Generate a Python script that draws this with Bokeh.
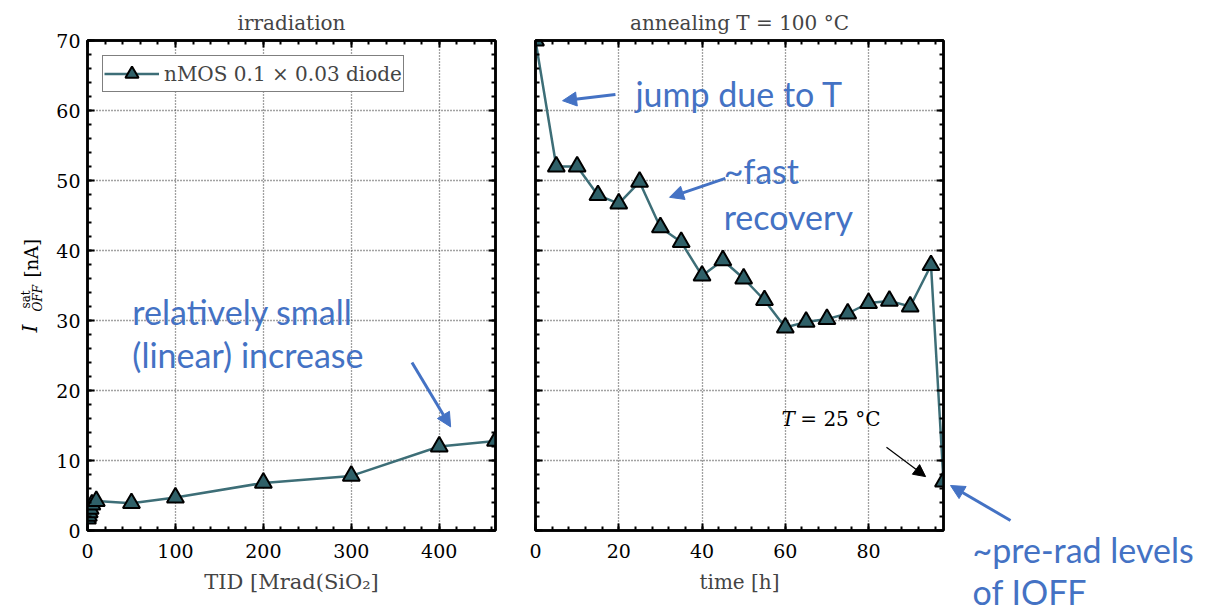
import math
from bokeh.plotting import figure
from bokeh.layouts import row
from bokeh.models import Range1d, FixedTicker, LinearAxis, Label, Arrow, NormalHead
from bokeh.core.properties import value
from bokeh.embed import file_html
from bokeh.resources import INLINE

# ---- data ----
tid = [0, 1, 2, 3, 5, 10, 50, 100, 200, 300, 400, 464]
ioff_irr = [1.7, 2.1, 2.6, 3.1, 3.7, 4.2, 3.9, 4.7, 6.8, 7.8, 12.0, 12.8]

time_h = [0, 5, 10, 15, 20, 25, 30, 35, 40, 45, 50, 55, 60, 65, 70, 75, 80, 85, 90, 95, 98]
ioff_ann = [70.0, 52.0, 52.0, 47.9, 46.7, 49.8, 43.3, 41.2, 36.4, 38.6, 36.0, 32.9,
            29.0, 29.8, 30.2, 31.0, 32.5, 32.8, 32.0, 37.9, 7.0]

irr_xticks = [0, 100, 200, 300, 400]
ann_xticks = [0, 20, 40, 60, 80]
yticks = [0, 10, 20, 30, 40, 50, 60, 70]

legend_text = "nMOS 0.1 \u00d7 0.03 diode"

LINE = "#3d6e77"
FILL = "#2f6068"
BLUE = "#4472c4"
SERIF = "DejaVu Serif"
SANS = "Lato"
H = 612


def hide_labels(ax):
    ax.major_label_text_font_size = "1px"
    ax.major_label_text_color = None
    ax.major_label_standoff = 0


def make_fig(width, mb_left, mb_right, xmax, xmaj, xminor_step, title):
    p = figure(width=width, height=H, x_range=Range1d(0, xmax), y_range=Range1d(0, 70),
               output_backend="svg", toolbar_location=None,
               min_border_left=mb_left, min_border_right=mb_right,
               min_border_top=40, min_border_bottom=H - 530)
    p.outline_line_color = "black"
    p.outline_line_width = 2.5
    xt = FixedTicker(ticks=xmaj, minor_ticks=list(range(0, int(xmax) + 1, xminor_step)))
    yt = FixedTicker(ticks=yticks, minor_ticks=list(range(0, 71, 2)))
    bottom = p.below[0]
    left = p.left[0]
    bottom.ticker = xt
    left.ticker = yt
    top = LinearAxis(ticker=xt)
    right = LinearAxis(ticker=yt)
    p.add_layout(top, "above")
    p.add_layout(right, "right")
    for ax in (bottom, left, top, right):
        ax.axis_line_color = "black"
        ax.axis_line_width = 2.5
        ax.major_tick_in = 7
        ax.major_tick_out = 0
        ax.minor_tick_in = 4
        ax.minor_tick_out = 0
        ax.major_tick_line_width = 2
        ax.minor_tick_line_width = 2
        ax.major_tick_line_color = "black"
        ax.minor_tick_line_color = "black"
        ax.major_label_text_font = SERIF
        ax.major_label_text_font_size = "19px"
        ax.major_label_text_color = "black"
    hide_labels(top)
    hide_labels(right)
    bottom.major_label_standoff = 13
    left.major_label_standoff = 7
    for g in p.grid:
        g.grid_line_color = "#444444"
        g.grid_line_dash = "1 2"
        g.grid_line_width = 1.3
    p.title.text = title
    p.title.align = "center"
    p.title.text_font = SERIF
    p.title.text_font_size = "20px"
    p.title.text_font_style = "normal"
    p.title.standoff = 11
    p.background_fill_color = "white"
    p.border_fill_color = "white"
    return p, bottom, left


def blank_fig(width):
    p = figure(width=width, height=H, x_range=Range1d(0, width), y_range=Range1d(0, H),
               output_backend="svg", toolbar_location=None,
               x_axis_location=None, y_axis_location=None,
               min_border_left=0, min_border_right=0, min_border_top=0, min_border_bottom=0)
    p.frame_align = False
    p.outline_line_color = None
    p.grid.visible = False
    p.background_fill_color = "white"
    p.border_fill_color = "white"
    return p


def lab(p, text, x, y, size, color=BLUE, font=SANS, style="normal"):
    p.add_layout(Label(x=x, y=y, text=text, text_font=font,
                       text_font_size=f"{size}px", text_color=color, text_font_style=style,
                       text_align="left", text_baseline="alphabetic"))


def arr(p, x0, y0, x1, y1, color, width, head):
    p.add_layout(Arrow(end=NormalHead(size=head, fill_color=color, line_color=color, line_width=1),
                       x_start=x0, y_start=y0, x_end=x1, y_end=y1,
                       line_color=color, line_width=width))


# ---------------- y-axis label strip ----------------
py = blank_fig(48)
rot = math.pi / 2
py.text(x=[29], y=[H - 332], text=["I"], angle=rot, text_font=value(SERIF),
        text_font_size=value("20px"), text_font_style="italic", text_color="black",
        text_baseline="alphabetic", text_align="left")
py.text(x=[25], y=[H - 308], text=["sat"], angle=rot, text_font=value(SERIF),
        text_font_size=value("12px"), text_color="black",
        text_baseline="alphabetic", text_align="left")
py.text(x=[37], y=[H - 311], text=["OFF"], angle=rot, text_font=value(SERIF),
        text_font_size=value("12px"), text_font_style="italic", text_color="black",
        text_baseline="alphabetic", text_align="left")
py.text(x=[31], y=[H - 277], text=["[nA]"], angle=rot, text_font=value(SERIF),
        text_font_size=value("18px"), text_color="black",
        text_baseline="alphabetic", text_align="left")

# ---------------- left panel: irradiation ----------------
p1, b1, l1 = make_fig(457, 39, 10, 464, irr_xticks, 20, "irradiation")
p1.line(tid, ioff_irr, line_color=LINE, line_width=2.5, legend_label=legend_text)
p1.scatter(tid, ioff_irr, marker="triangle", size=17, fill_color=FILL, line_color="black",
           line_width=2, legend_label=legend_text)
b1.axis_label = "TID [Mrad(SiO\u2082]"
b1.axis_label_text_font = SERIF
b1.axis_label_text_font_size = "21px"
b1.axis_label_text_font_style = "normal"
b1.axis_label_standoff = 9

p1.legend.location = "top_left"
p1.legend.margin = 15
p1.legend.padding = 1
p1.legend.border_line_color = "black"
p1.legend.border_line_width = 1.5
p1.legend.label_text_font = SERIF
p1.legend.label_text_font_size = "20px"
p1.legend.glyph_width = 55
p1.legend.glyph_height = 33
p1.legend.label_standoff = 5
p1.legend.background_fill_alpha = 1.0

lab(p1, "relatively small", 51, 31.3, 34)
lab(p1, "(linear) increase", 51, 25.2, 34)
arr(p1, 369, 24.0, 413, 14.8, BLUE, 3, 14)

# ---------------- right panel: annealing ----------------
p2, b2, l2 = make_fig(442, 30, 4, 98, ann_xticks, 4, "annealing T = 100 \u00b0C")
p2.line(time_h, ioff_ann, line_color=LINE, line_width=2.5)
p2.scatter(time_h, ioff_ann, marker="triangle", size=17, fill_color=FILL, line_color="black",
           line_width=2)
hide_labels(l2)
b2.axis_label = "time [h]"
b2.axis_label_text_font = SERIF
b2.axis_label_text_font_size = "20px"
b2.axis_label_text_font_style = "normal"
b2.axis_label_standoff = 9

lab(p2, "jump due to T", 24.0, 62.5, 34)
arr(p2, 19.2, 62.3, 6.5, 61.4, BLUE, 3, 14)
lab(p2, "~fast", 45.2, 51.4, 34)
lab(p2, "recovery", 45.2, 44.9, 34)
arr(p2, 45.6, 50.3, 32.2, 47.6, BLUE, 3, 14)

lab(p2, "T", 59.1, 15.9, 20, color="black", font=SERIF, style="italic")
lab(p2, "= 25 \u00b0C", 63.6, 15.9, 20, color="black", font=SERIF)
arr(p2, 84.3, 11.9, 93.7, 7.7, "black", 1.2, 12)

# ---------------- right-hand annotation strip ----------------
pa = blank_fig(274)
pa.text(x=[25, 25], y=[H - 549, H - 591], text=["~pre-rad levels", "of IOFF"],
        text_font=value(SANS), text_font_size=value("34px"), text_color=BLUE,
        text_baseline="alphabetic", text_align="left")
pa.add_layout(Arrow(end=NormalHead(size=14, fill_color=BLUE, line_color=BLUE, line_width=1),
                    x_start=63, y_start=H - 520, x_end=3, y_end=H - 485,
                    line_color=BLUE, line_width=3))

layout = row(py, p1, p2, pa)
open("out.html", "w").write(file_html(layout, INLINE))
